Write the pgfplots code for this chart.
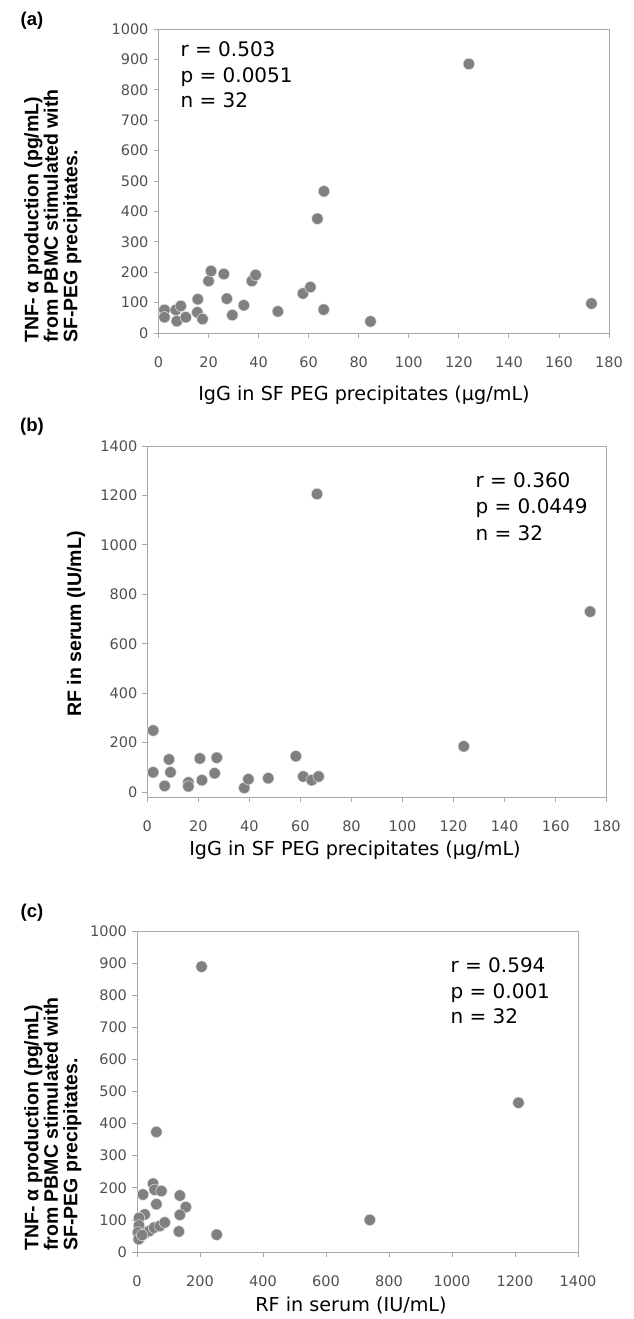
\documentclass[border=0pt]{standalone}
\usepackage{fontspec}
\setmainfont{DejaVu Sans}
\newfontfamily\boldlab{Liberation Sans}
\usepackage{pgfplots}
\pgfplotsset{compat=1.18}

\definecolor{dotgray}{HTML}{808080}
\definecolor{framegray}{HTML}{A8A8A8}
\definecolor{ticktext}{HTML}{505050}

% common look of the three panels
\pgfplotsset{
  panel/.style={
    scale only axis,
    anchor=south west,
    axis line style={framegray, line width=0.8pt},
    tick style={framegray, line width=0.8pt},
    tick align=outside,
    major tick length=5pt,
    xtick pos=bottom, ytick pos=left,
    ticklabel style={font=\fontsize{14.5}{15}\selectfont, text=ticktext},
    xticklabel style={yshift=-15pt},
    yticklabel style={xshift=-1.5pt},
    /pgf/number format/assume math mode=true,
    /pgf/number format/1000 sep={},
    clip=false,
  },
  dots/.style={only marks, mark=*, mark size=5.7pt,
    mark options={fill=dotgray, draw=white!75!dotgray, line width=0.5pt}},
}

\newcommand{\annot}{\fontsize{20}{26}\selectfont}
\newcommand{\xlab}{\fontsize{19.2}{22}\selectfont}
\newcommand{\ylab}{\boldlab\bfseries\fontsize{19.5}{19.5}\selectfont}
\newcommand{\letter}{\boldlab\bfseries\fontsize{18.5}{20}\selectfont}

\begin{document}
\begin{tikzpicture}
\path[use as bounding box] (0,0) rectangle (634pt,-1319pt);

% ---------- (a) ----------
\begin{axis}[panel, at={(158.5pt,-333pt)}, width=450.5pt, height=304pt,
  xmin=0, xmax=180, ymin=0, ymax=1000,
  xtick={0,20,...,180}, ytick={0,100,...,1000}]
\addplot[dots] coordinates {
 (2.4,76) (2.4,52) (6.9,76) (7.3,39) (8.9,89) (10.9,52) (15.5,68) (15.7,111)
 (17.6,46) (20,171) (21,204) (26.1,194) (27.3,113) (29.5,59) (34.1,91)
 (37.3,171) (38.8,191) (47.7,71) (57.7,130) (60.7,151) (63.5,376) (66.1,466)
 (66,77) (84.7,38) (124,885) (173,97)
};
\end{axis}
\node[font=\letter] at (32pt,-21pt) {(a)};
\node[rotate=90, anchor=north west, align=left, inner sep=0pt, font=\ylab]
  at (24pt,-343pt) {TNF- α production (pg/mL)\\from PBMC stimulated with\\SF-PEG precipitates.};
\node[font=\xlab] at (364pt,-395pt) {IgG in SF PEG precipitates (μg/mL)};
\node[anchor=base west, font=\annot] at (177pt,-57pt) {r = 0.503};
\node[anchor=base west, font=\annot] at (177pt,-83pt) {p = 0.0051};
\node[anchor=base west, font=\annot] at (177pt,-108pt) {n = 32};

% ---------- (b) ----------
\begin{axis}[panel, at={(147.3pt,-797pt)}, width=459.4pt, height=351pt,
  xmin=0, xmax=180, ymin=-20, ymax=1400,
  xtick={0,20,...,180}, ytick={0,200,...,1400}]
\addplot[dots] coordinates {
 (2.3,249) (2.3,80) (6.8,25) (8.5,132) (9.1,80) (16.1,39) (16.1,23) (20.6,136)
 (21.4,48) (26.4,76) (27.2,139) (38,17) (39.6,52) (47.4,56) (58.2,145)
 (61.1,63) (64.4,48) (67.1,63) (66.5,1206) (124,185) (173.5,730)
};
\end{axis}
\node[font=\letter] at (32pt,-427pt) {(b)};
\node[rotate=90, font=\ylab] at (76pt,-624pt) {RF in serum (IU/mL)};
\node[font=\xlab] at (355pt,-850pt) {IgG in SF PEG precipitates (μg/mL)};
\node[anchor=base west, font=\annot] at (472pt,-487pt) {r = 0.360};
\node[anchor=base west, font=\annot] at (472pt,-513pt) {p = 0.0449};
\node[anchor=base west, font=\annot] at (472pt,-540pt) {n = 32};

% ---------- (c) ----------
\begin{axis}[panel, at={(137pt,-1252pt)}, width=441pt, height=321pt,
  xmin=0, xmax=1400, ymin=0, ymax=1000,
  xtick={0,200,...,1400}, ytick={0,100,...,1000}]
\addplot[dots] coordinates {
 (61.6,374) (1211,465) (739,100) (253,54) (51,213) (19,179) (56,194) (77.5,190)
 (136,176) (61.6,149) (155,140) (136,116) (24.4,117) (6.4,106) (6.4,83)
 (3,61) (5.3,40) (30,61) (40,66) (54,76) (72,81) (88,92) (133,64) (16,53)
 (205,889)
};
\end{axis}
\node[font=\letter] at (32pt,-913pt) {(c)};
\node[rotate=90, anchor=north west, align=left, inner sep=0pt, font=\ylab]
  at (24pt,-1251pt) {TNF- α production (pg/mL)\\from PBMC stimulated with\\SF-PEG precipitates.};
\node[font=\xlab] at (351pt,-1305pt) {RF in serum (IU/mL)};
\node[anchor=base west, font=\annot] at (447pt,-972pt) {r = 0.594};
\node[anchor=base west, font=\annot] at (447pt,-998pt) {p = 0.001};
\node[anchor=base west, font=\annot] at (447pt,-1023pt) {n = 32};
\end{tikzpicture}
\end{document}
